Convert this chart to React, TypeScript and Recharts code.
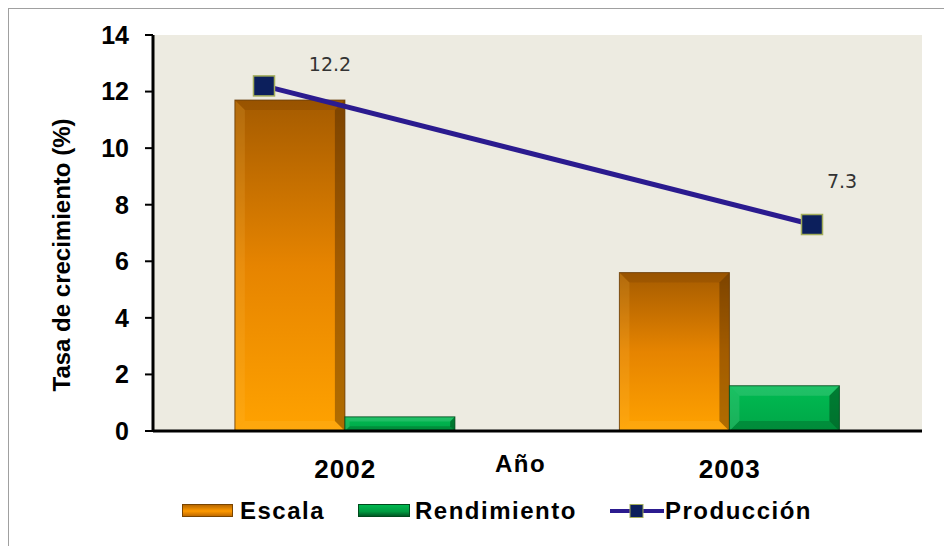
import React from "react"
import { ComposedChart, Bar, Line, XAxis, YAxis, CartesianGrid, Legend, LabelList } from "recharts"

const years = ["2002", "2003"]
const escala = [11.7, 5.6]
const rendimiento = [0.5, 1.6]
const produccion = [12.2, 7.3]
const yTicks = [0, 2, 4, 6, 8, 10, 12, 14]

const data = years.map((year, i) => ({
  year,
  escala: escala[i],
  rendimiento: rendimiento[i],
  produccion: produccion[i],
}))

const FONT = "'Liberation Sans', Arial, sans-serif"
const LINE_COLOR = "#2b1b8f"
const MARKER_FILL = "#0c1f5c"
const MARKER_STROKE = "#a3ad5a"

// label placement relative to each Producción marker
const labelOffsets = [
  { dx: 66, dy: -22 },
  { dx: 30, dy: -44 },
]

function bevelBar(props: any, kind: "orange" | "green") {
  const { x, y, width, height } = props
  if (!height || height <= 0) return <g />
  const b = Math.min(10, height / 3, width / 3)
  const grad = kind === "orange" ? "url(#gOrange)" : "url(#gGreen)"
  const dark = kind === "orange" ? "rgba(70,35,0,0.42)" : "rgba(0,40,10,0.42)"
  const topShade = kind === "orange" ? "rgba(80,40,0,0.15)" : "rgba(255,255,255,0.12)"
  const bottomShade = kind === "orange" ? "rgba(255,190,60,0.22)" : "rgba(0,40,10,0.22)"
  const leftShade = kind === "orange" ? "rgba(255,200,90,0.15)" : "rgba(255,255,255,0.1)"
  const outline = kind === "orange" ? "rgba(100,55,0,0.8)" : "rgba(0,70,25,0.8)"
  const r = x + width
  const bt = y + height
  return (
    <g>
      <rect x={x} y={y} width={width} height={height} fill={grad} />
      <polygon points={`${x},${y} ${r},${y} ${r - b},${y + b} ${x + b},${y + b}`} fill={topShade} />
      <polygon points={`${r},${y} ${r},${bt} ${r - b},${bt - b} ${r - b},${y + b}`} fill={dark} />
      <polygon points={`${x},${bt} ${r},${bt} ${r - b},${bt - b} ${x + b},${bt - b}`} fill={bottomShade} />
      <polygon points={`${x},${y} ${x + b},${y + b} ${x + b},${bt - b} ${x},${bt}`} fill={leftShade} />
      <rect x={x} y={y} width={width} height={height} fill="none" stroke={outline} strokeWidth={1} />
    </g>
  )
}

function SquareDot(props: any) {
  const { cx, cy, index } = props
  return (
    <rect
      key={`dot-${index}`}
      x={cx - 10.5}
      y={cy - 10}
      width={21}
      height={20}
      fill={MARKER_FILL}
      stroke={MARKER_STROKE}
      strokeWidth={1.5}
    />
  )
}

function PointLabel(props: any) {
  const { x, y, value, index } = props
  const off = labelOffsets[index] || { dx: 0, dy: -20 }
  return (
    <text
      x={x + off.dx}
      y={y + off.dy}
      textAnchor="middle"
      dominantBaseline="central"
      fill="#333"
      fontSize={19}
      fontFamily="'DejaVu Sans', sans-serif"
    >
      {value}
    </text>
  )
}

function YTitle(props: any) {
  const { viewBox } = props
  const cx = viewBox.x + 32
  const cy = viewBox.y + viewBox.height / 2 + 22
  return (
    <text
      x={cx}
      y={cy}
      transform={`rotate(-90, ${cx}, ${cy})`}
      textAnchor="middle"
      dominantBaseline="central"
      fontFamily={FONT}
      fontWeight="bold"
      fontSize={24}
      fill="#000"
    >
      Tasa de crecimiento (%)
    </text>
  )
}

function XTitle(props: any) {
  const { viewBox } = props
  const cx = viewBox.x + viewBox.width / 2 - 17
  const cy = viewBox.y + 32
  return (
    <text
      x={cx}
      y={cy}
      textAnchor="middle"
      dominantBaseline="central"
      fontFamily={FONT}
      fontWeight="bold"
      fontSize={24}
      letterSpacing={1.5}
      fill="#000"
    >
      Año
    </text>
  )
}

const legendText: React.CSSProperties = {
  position: "absolute",
  top: 0,
  lineHeight: "30px",
  fontFamily: FONT,
  fontWeight: "bold",
  fontSize: 24,
  letterSpacing: 1.5,
  color: "#000",
}

function LegendContent() {
  return (
    <div style={{ position: "relative", width: 934, height: 30 }}>
      <div
        style={{
          position: "absolute",
          left: 173,
          top: 8,
          width: 51,
          height: 13,
          boxSizing: "border-box",
          border: "1px solid #7a4500",
          background: "linear-gradient(#b86800, #ff9a00 55%, #c06a00)",
        }}
      />
      <span style={{ ...legendText, left: 231 }}>Escala</span>
      <div
        style={{
          position: "absolute",
          left: 349,
          top: 8,
          width: 52,
          height: 13,
          boxSizing: "border-box",
          border: "1px solid #004a1c",
          background: "linear-gradient(#00b850, #009a40 60%, #005a25)",
        }}
      />
      <span style={{ ...legendText, left: 406 }}>Rendimiento</span>
      <svg style={{ position: "absolute", left: 601, top: 7 }} width={54} height={16}>
        <line x1={0} y1={8} x2={54} y2={8} stroke={LINE_COLOR} strokeWidth={4} />
        <rect x={20} y={1.5} width={13} height={13} fill={MARKER_FILL} stroke={MARKER_STROKE} strokeWidth={1} />
      </svg>
      <span style={{ ...legendText, left: 656 }}>Producción</span>
    </div>
  )
}

export default function App() {
  return (
    <div
      style={{
        position: "relative",
        width: 944,
        height: 538,
        borderTop: "1px solid #a0a0a0",
        borderLeft: "1px solid #a0a0a0",
        boxSizing: "border-box",
        background: "#fff",
      }}
    >
      <ComposedChart
        width={934}
        height={536}
        data={data}
        margin={{ top: 26, right: 21, left: 20, bottom: 19 }}
        barCategoryGap="21.3%"
        barGap={0}
      >
        <defs>
          <linearGradient id="gOrange" x1="0" y1="0" x2="0" y2="1">
            <stop offset="0%" stopColor="#a55b00" />
            <stop offset="50%" stopColor="#e68400" />
            <stop offset="100%" stopColor="#ffa200" />
          </linearGradient>
          <linearGradient id="gGreen" x1="0" y1="0" x2="0" y2="1">
            <stop offset="0%" stopColor="#00bb52" />
            <stop offset="100%" stopColor="#00a647" />
          </linearGradient>
        </defs>
        <CartesianGrid fill="#edebe1" horizontal={false} vertical={false} xAxisId="bar" />
        <XAxis
          xAxisId="bar"
          dataKey="year"
          height={65}
          axisLine={{ stroke: "#000", strokeWidth: 3 }}
          tickLine={false}
          tickSize={0}
          tickMargin={29}
          tick={{ fill: "#000", fontSize: 26, fontWeight: "bold", fontFamily: FONT, letterSpacing: 1 }}
          label={<XTitle />}
        />
        <XAxis
          xAxisId="line"
          dataKey="year"
          hide
          scale="point"
          padding={{ left: 111, right: 110 }}
        />
        <YAxis
          width={124}
          domain={[0, 14]}
          ticks={yTicks}
          interval={0}
          axisLine={{ stroke: "#000", strokeWidth: 3 }}
          tickLine={{ stroke: "#000", strokeWidth: 2 }}
          tickSize={8}
          tickMargin={16}
          tick={{ fill: "#000", fontSize: 25, fontWeight: "bold", fontFamily: FONT }}
          label={<YTitle />}
        />
        <Legend verticalAlign="bottom" wrapperStyle={{ left: 0, width: 934 }} content={<LegendContent />} />
        <Bar
          xAxisId="bar"
          dataKey="escala"
          name="Escala"
          isAnimationActive={false}
          shape={(p: any) => bevelBar(p, "orange")}
        />
        <Bar
          xAxisId="bar"
          dataKey="rendimiento"
          name="Rendimiento"
          isAnimationActive={false}
          shape={(p: any) => bevelBar(p, "green")}
        />
        <Line
          xAxisId="line"
          dataKey="produccion"
          name="Producción"
          stroke={LINE_COLOR}
          strokeWidth={5}
          dot={<SquareDot />}
          activeDot={false}
          isAnimationActive={false}
        >
          <LabelList dataKey="produccion" content={<PointLabel />} />
        </Line>
      </ComposedChart>
    </div>
  )
}
